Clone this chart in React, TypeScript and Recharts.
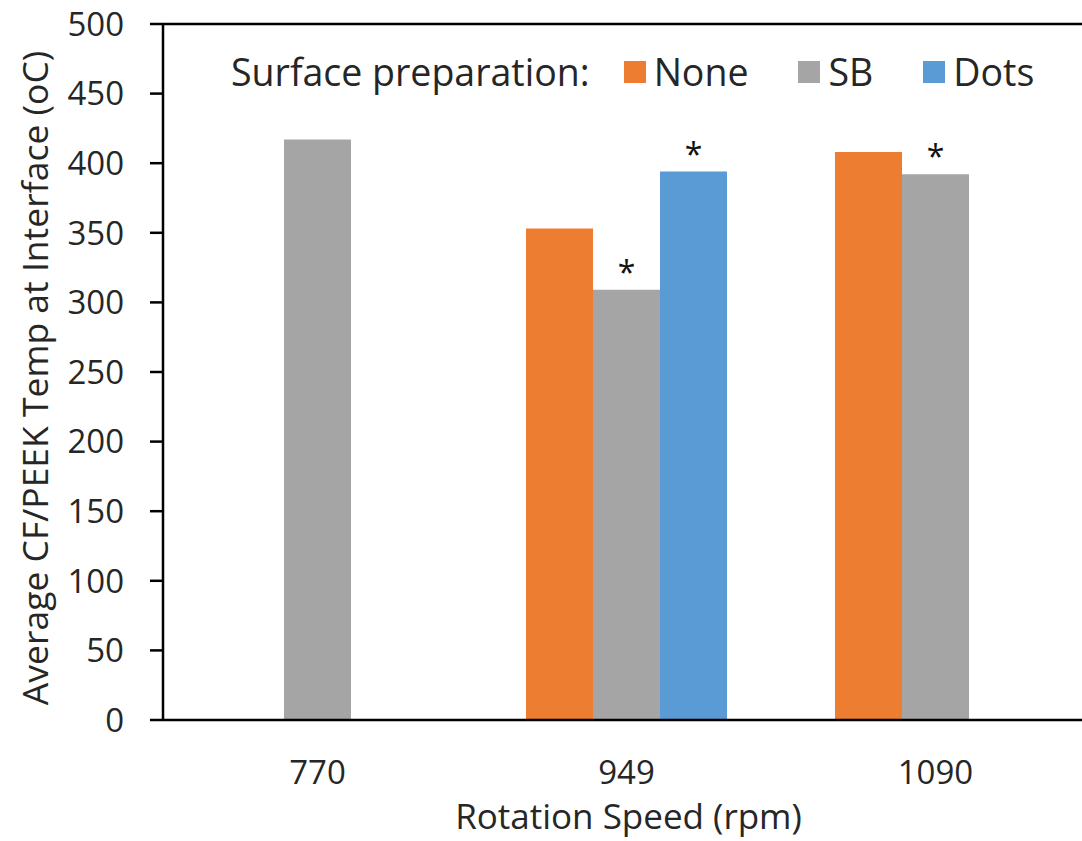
import React from 'react';
import { BarChart, Bar, XAxis, YAxis, ReferenceLine, Legend, LabelList } from 'recharts';

const categories = ['770', '949', '1090'];
const seriesNames = ['None', 'SB', 'Dots'];
const noneValues: (number | null)[] = [null, 353, 408];
const sbValues: (number | null)[] = [417, 309, 392];
const dotsValues: (number | null)[] = [null, 394, null];
const sbSignificant = [false, true, true];
const dotsSignificant = [false, true, false];
const yTicks = [0, 50, 100, 150, 200, 250, 300, 350, 400, 450, 500];

const colors = ['#ED7D31', '#A5A5A5', '#5B9BD5'];
const FONT = '"Open Sans", "DejaVu Sans", sans-serif';
const TEXT = '#262626';

const data = categories.map((c, i) => ({
  cat: c,
  None: noneValues[i],
  SB: sbValues[i],
  Dots: dotsValues[i],
  sbMark: sbSignificant[i] ? '*' : '',
  dotsMark: dotsSignificant[i] ? '*' : '',
}));

const Star = (props: any) => {
  const { x, y, width, value } = props;
  if (!value) return null;
  return (
    <text x={x + width / 2} y={y - 6} textAnchor="middle" fontFamily={FONT} fontSize={32} fill="#111">
      {value}
    </text>
  );
};

const YLabel = (props: any) => {
  const vb = props.viewBox || { x: 0, y: 24, width: 163, height: 696 };
  const cx = 34;
  const cy = vb.y + vb.height / 2 + 6;
  return (
    <text x={cx} y={cy} transform={`rotate(-90 ${cx} ${cy})`} textAnchor="middle" dominantBaseline="central" fontFamily={FONT} fontSize={35.5} fill={TEXT}>
      Average CF/PEEK Temp at Interface (oC)
    </text>
  );
};

const XLabel = (props: any) => {
  const vb = props.viewBox || { x: 163, y: 720, width: 927, height: 121 };
  return (
    <text x={vb.x + vb.width / 2 + 2} y={829} textAnchor="middle" fontFamily={FONT} fontSize={35} fill={TEXT}>
      Rotation Speed (rpm)
    </text>
  );
};

const LegendContent = () => (
  <div style={{ display: 'flex', alignItems: 'center', fontFamily: FONT, fontSize: 37.5, color: TEXT, whiteSpace: 'nowrap' }}>
    <span style={{ marginRight: 34 }}>Surface preparation:</span>
    {seriesNames.map((n, i) => (
      <span key={n} style={{ display: 'flex', alignItems: 'center', marginRight: 50 }}>
        <span style={{ display: 'inline-block', width: 22, height: 22, background: colors[i], marginRight: 8 }} />
        {n}
      </span>
    ))}
  </div>
);

export default function App() {
  return (
    <div style={{ position: 'absolute', left: 0, top: 0, width: 1082, height: 841, overflow: 'hidden', background: '#fff' }}>
      <BarChart
        width={1100}
        height={841}
        data={data}
        margin={{ top: 24, right: 10, bottom: 0, left: 0 }}
        barGap={0}
        barSize={67}
      >
        <XAxis
          dataKey="cat"
          height={121}
          tickLine={false}
          tickSize={0}
          tickMargin={41}
          axisLine={{ stroke: '#000', strokeWidth: 2.5 }}
          tick={{ fontFamily: FONT, fontSize: 33, fill: TEXT }}
          label={<XLabel />}
        />
        <YAxis
          width={163}
          domain={[0, 500]}
          ticks={yTicks}
          interval={0}
          tickSize={13}
          tickMargin={26}
          axisLine={{ stroke: '#000', strokeWidth: 2.5 }}
          tickLine={{ stroke: '#000', strokeWidth: 2.5 }}
          tick={{ fontFamily: FONT, fontSize: 33, fill: TEXT }}
          label={<YLabel />}
        />
        <ReferenceLine y={500} stroke="#000" strokeWidth={2.5} />
        <Legend
          layout="horizontal"
          verticalAlign="middle"
          align="center"
          wrapperStyle={{ top: 46, left: 231, width: 'auto', height: 'auto' }}
          content={<LegendContent />}
        />
        <Bar dataKey="None" name="None" fill={colors[0]} isAnimationActive={false} />
        <Bar dataKey="SB" name="SB" fill={colors[1]} isAnimationActive={false}>
          <LabelList dataKey="sbMark" content={<Star />} />
        </Bar>
        <Bar dataKey="Dots" name="Dots" fill={colors[2]} isAnimationActive={false}>
          <LabelList dataKey="dotsMark" content={<Star />} />
        </Bar>
      </BarChart>
    </div>
  );
}
